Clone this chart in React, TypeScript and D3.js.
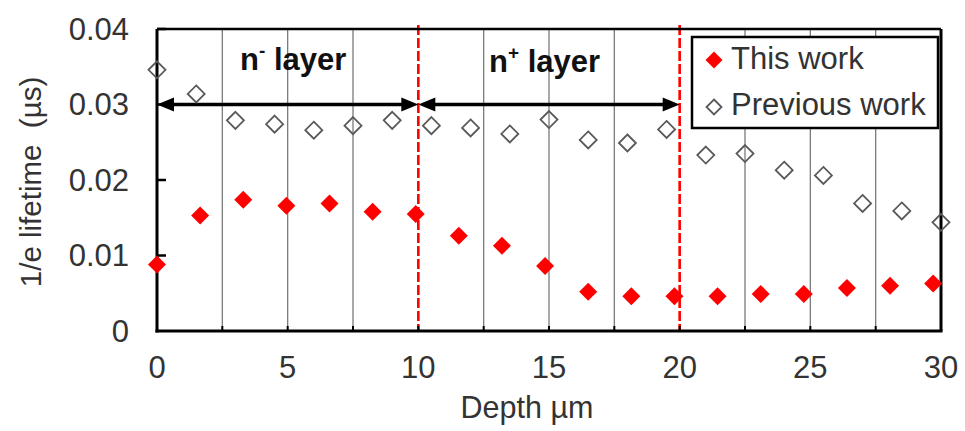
import React from 'react';
import * as d3 from 'd3';

// depth positions (µm) and 1/e lifetime values (µs)
const thisDepth = [0, 1.65, 3.3, 4.95, 6.6, 8.25, 9.9, 11.55, 13.2, 14.85, 16.5, 18.15, 19.8, 21.45, 23.1, 24.75, 26.4, 28.05, 29.7];
const thisWork = [0.0088, 0.0153, 0.0174, 0.0166, 0.0169, 0.0158, 0.0155, 0.0126, 0.0113, 0.0086, 0.0052, 0.0046, 0.0046, 0.0046, 0.0049, 0.0049, 0.0057, 0.006, 0.0063];

const prevDepth = [0, 1.5, 3, 4.5, 6, 7.5, 9, 10.5, 12, 13.5, 15, 16.5, 18, 19.5, 21, 22.5, 24, 25.5, 27, 28.5, 30];
const prevWork = [0.0346, 0.0314, 0.0279, 0.0274, 0.0266, 0.0272, 0.0279, 0.0272, 0.0269, 0.0261, 0.028, 0.0253, 0.0249, 0.0267, 0.0233, 0.0235, 0.0213, 0.0206, 0.0169, 0.0159, 0.0144];

const xTicks = [0, 5, 10, 15, 20, 25, 30];
const xGrid = [2.5, 5, 7.5, 12.5, 15, 17.5, 22.5, 25, 27.5];
const yTicks = [0, 0.01, 0.02, 0.03, 0.04];
const layerBounds = [10, 20];
const legendItems = ['This work', 'Previous work'];

const W = 965;
const H = 431;
const font = '"Liberation Sans", Arial, sans-serif';

const diamond = (cx: number, cy: number, r: number) =>
  `M${cx},${cy - r}L${cx + r},${cy}L${cx},${cy + r}L${cx - r},${cy}Z`;

const App = () => {
  const x = d3.scaleLinear().domain([0, 30]).range([157, 941]);
  const y = d3.scaleLinear().domain([0, 0.04]).range([331, 29]);
  const fmt = d3.format('~g');

  const arrowY = y(0.03);
  const head = (tipX: number, dir: number) =>
    `M${tipX},${arrowY}L${tipX - dir * 17},${arrowY - 7}L${tipX - dir * 17},${arrowY + 7}Z`;

  return (
    <svg width={W} height={H} style={{ display: 'block', position: 'absolute', left: 0, top: 0 }} fontFamily={font}>
      <rect width={W} height={H} fill="#fff" />

      {/* vertical grid lines */}
      {xGrid.map(v => (
        <line key={v} x1={x(v)} x2={x(v)} y1={y(0.04)} y2={y(0)} stroke="#7a7a7a" strokeWidth={1.3} />
      ))}

      {/* red dashed layer boundaries */}
      {layerBounds.map(v => (
        <line key={v} x1={x(v)} x2={x(v)} y1={25} y2={y(0)} stroke="#ff0000" strokeWidth={2.6} strokeDasharray="10,3" />
      ))}

      {/* plot frame */}
      <line x1={x(0)} x2={x(30)} y1={y(0.04)} y2={y(0.04)} stroke="#000" strokeWidth={2.5} />
      <line x1={x(30)} x2={x(30)} y1={y(0.04)} y2={y(0)} stroke="#000" strokeWidth={3} />
      <line x1={x(0)} x2={x(0)} y1={y(0.04)} y2={y(0) + 1.5} stroke="#000" strokeWidth={3} />
      <line x1={x(0) - 1.5} x2={x(30) + 1.5} y1={y(0)} y2={y(0)} stroke="#000" strokeWidth={3} />

      {/* tick marks */}
      {[2.5, 5, 7.5, 10, 12.5, 15, 17.5, 20, 22.5, 25, 27.5].map(v => (
        <line key={v} x1={x(v)} x2={x(v)} y1={y(0)} y2={y(0) - 5} stroke="#000" strokeWidth={2} />
      ))}
      {yTicks.slice(1).map(v => (
        <line key={v} x1={x(0)} x2={x(0) + 9} y1={y(v)} y2={y(v)} stroke="#000" strokeWidth={2.5} />
      ))}

      {/* tick labels */}
      {yTicks.map(v => (
        <text key={v} x={129} y={y(v)} dy="0.35em" textAnchor="end" fontSize={31} fill="#333">{fmt(v)}</text>
      ))}
      {xTicks.map(v => (
        <text key={v} x={x(v)} y={378} textAnchor="middle" fontSize={31} fill="#333">{v}</text>
      ))}

      {/* axis titles */}
      <text x={527} y={418} textAnchor="middle" fontSize={30.5} fill="#333">Depth µm</text>
      <text transform="translate(41,182) rotate(-90)" textAnchor="middle" fontSize={29.5} fill="#333" xmlSpace="preserve">1/e lifetime  (µs)</text>

      {/* layer arrows */}
      {[[0, 10], [10, 20]].map(([a, b]) => (
        <g key={a}>
          <line x1={x(a) + 10} x2={x(b) - 10} y1={arrowY} y2={arrowY} stroke="#000" strokeWidth={3.5} />
          <path d={head(x(a), -1)} fill="#000" />
          <path d={head(x(b), 1)} fill="#000" />
        </g>
      ))}

      {/* layer labels */}
      <text x={240} y={70} fontSize={31} fontWeight="bold" fill="#111">
        n<tspan fontSize={19} dy={-13}>-</tspan><tspan dy={13}> layer</tspan>
      </text>
      <text x={489} y={72} fontSize={31} fontWeight="bold" fill="#111">
        n<tspan fontSize={19} dy={-13}>+</tspan><tspan dy={13}> layer</tspan>
      </text>

      {/* previous work: open diamonds */}
      {prevWork.map((v, i) => (
        <path key={i} d={diamond(x(prevDepth[i]), y(v), 8.5)} fill="none" stroke="#595959" strokeWidth={1.8} />
      ))}

      {/* this work: red diamonds */}
      {thisWork.map((v, i) => (
        <path key={i} d={diamond(x(thisDepth[i]), y(v), 9)} fill="#ff0000" />
      ))}

      {/* legend */}
      <rect x={692} y={37} width={246} height={91} fill="#fff" stroke="#000" strokeWidth={2.5} />
      <path d={diamond(714, 60, 8.5)} fill="#ff0000" />
      <path d={diamond(714, 107, 7.5)} fill="none" stroke="#595959" strokeWidth={1.8} />
      {legendItems.map((t, i) => (
        <text key={t} x={731} y={69 + i * 46} fontSize={31} fill="#333">{t}</text>
      ))}
    </svg>
  );
};

export default App;
